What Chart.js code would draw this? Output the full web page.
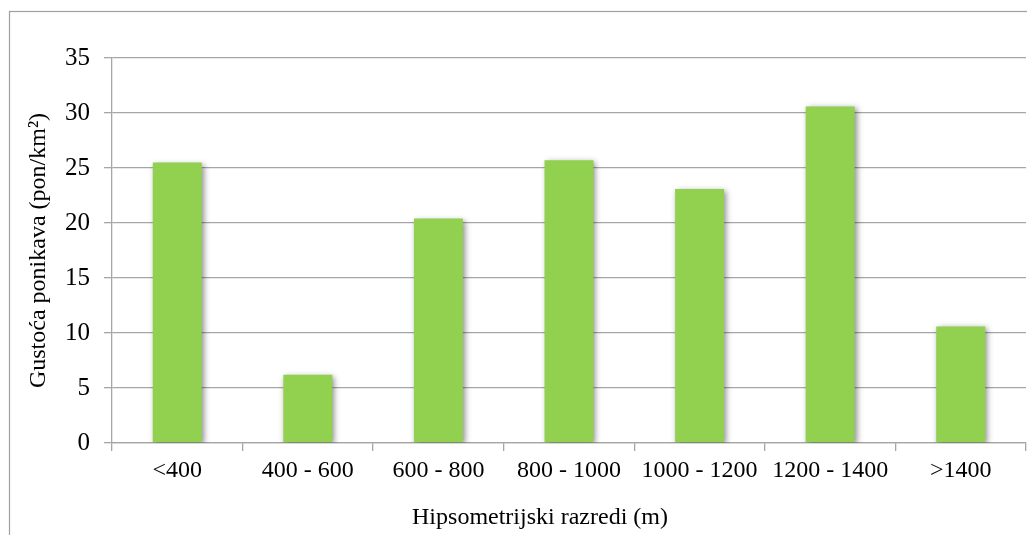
<!DOCTYPE html>
<html>
<head>
<meta charset="utf-8">
<script src="https://cdn.jsdelivr.net/npm/chart.js@4"></script>
<style>
html,body{margin:0;padding:0;background:#fff;}
#wrap{width:1027px;height:535px;position:relative;}
</style>
</head>
<body>
<div id="wrap"><canvas id="c" width="1027" height="535"></canvas></div>
<script>
const categories = ['<400', '400 - 600', '600 - 800', '800 - 1000', '1000 - 1200', '1200 - 1400', '>1400'];
const density = [25.5, 6.2, 20.4, 25.7, 23.1, 30.6, 10.6];
const yTicks = [0, 5, 10, 15, 20, 25, 30, 35];
const xTitle = 'Hipsometrijski razredi (m)';
const yTitle = 'Gustoća ponikava (pon/km²)';

const frame = {
  id: 'frame',
  beforeDraw(chart) {
    const ctx = chart.ctx;
    ctx.save();
    ctx.fillStyle = '#fff';
    ctx.fillRect(0, 0, chart.width, chart.height);
    ctx.strokeStyle = '#a0a0a0';
    ctx.lineWidth = 1.2;
    ctx.strokeRect(9.5, 11.5, 1025, 540);
    ctx.restore();
  },
  afterDraw(chart) {
    const ctx = chart.ctx;
    ctx.save();
    ctx.fillStyle = '#000';
    ctx.font = '24px "Liberation Serif"';
    ctx.textAlign = 'center';
    ctx.textBaseline = 'middle';
    ctx.fillText(xTitle, 540, 518);
    ctx.restore();
  }
};
const shadow = {
  id: 'shadow',
  beforeDatasetsDraw(chart) {
    const ctx = chart.ctx;
    ctx.save();
    ctx.shadowColor = 'rgba(0,0,0,0.45)';
    ctx.shadowBlur = 6;
    ctx.shadowOffsetX = 2;
    ctx.shadowOffsetY = 2;
  },
  afterDatasetsDraw(chart) {
    chart.ctx.restore();
  }
};

new Chart(document.getElementById('c'), {
  type: 'bar',
  data: {
    labels: categories,
    datasets: [{
      data: density,
      backgroundColor: '#92D050',
      borderWidth: 0,
      barPercentage: 0.75,
      categoryPercentage: 0.5
    }]
  },
  options: {
    responsive: false,
    animation: false,
    devicePixelRatio: 1,
    layout: { padding: { left: 10, top: 58, right: 1, bottom: 0 } },
    plugins: { legend: { display: false }, tooltip: { enabled: false } },
    scales: {
      x: {
        afterFit(s) { s.height = 92; },
        grid: { drawOnChartArea: false, offset: true, tickLength: 8, color: '#a6a6a6', lineWidth: 1.3 },
        border: { color: '#a6a6a6', width: 1.3 },
        ticks: { color: '#000', font: { family: 'Liberation Serif', size: 24 }, padding: 5, maxRotation: 0, autoSkip: false },
        title: { display: false }
      },
      y: {
        min: 0, max: 35,
        afterFit(s) { s.width = 102; },
        afterBuildTicks(s) { s.ticks = yTicks.map(v => ({ value: v })); },
        grid: { color: '#a6a6a6', lineWidth: 1.3, tickLength: 8 },
        border: { color: '#a6a6a6', width: 1.3 },
        ticks: { color: '#000', font: { family: 'Liberation Serif', size: 25 }, padding: 14 },
        title: { display: true, text: yTitle, color: '#000', font: { family: 'Liberation Serif', size: 24 }, padding: { top: 14, bottom: 0 } }
      }
    }
  },
  plugins: [frame, shadow]
});
</script>
</body>
</html>
